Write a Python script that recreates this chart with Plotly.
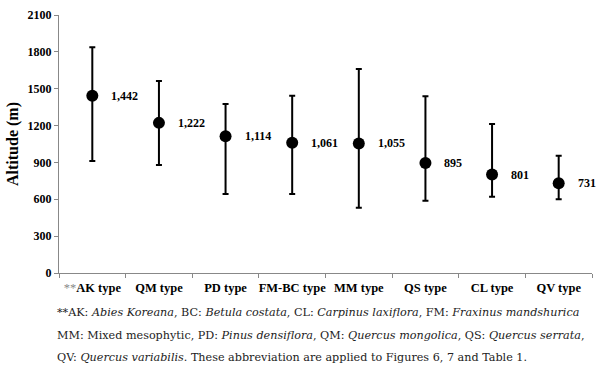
import plotly.graph_objects as go

categories = ["**AK type", "QM type", "PD type", "FM-BC type", "MM type", "QS type", "CL type", "QV type"]
tick_text = ["<span style='color:#888888;font-weight:normal'>**</span>AK type", "QM type", "PD type",
             "FM-BC type", "MM type", "QS type", "CL type", "QV type"]
means = [1442, 1222, 1114, 1061, 1055, 895, 801, 731]
upper = [1837, 1563, 1375, 1443, 1660, 1438, 1213, 955]
lower = [911, 879, 643, 643, 531, 588, 621, 600]
value_labels = ["1,442", "1,222", "1,114", "1,061", "1,055", "895", "801", "731"]
y_ticks = [0, 300, 600, 900, 1200, 1500, 1800, 2100]
caption_lines = [
    "**AK: <i>Abies Koreana</i>, BC: <i>Betula costata</i>, CL: <i>Carpinus laxiflora</i>, FM: <i>Fraxinus mandshurica</i>",
    "MM: Mixed mesophytic, PD: <i>Pinus densiflora</i>, QM: <i>Quercus mongolica</i>, QS: <i>Quercus serrata</i>,",
    "QV: <i>Quercus variabilis</i>. These abbreviation are applied to Figures 6, 7 and Table 1.",
]

err_plus = [u - m for u, m in zip(upper, means)]
err_minus = [m - l for m, l in zip(means, lower)]

SERIF = "Liberation Serif, Times New Roman, serif"
CAP = "DejaVu Serif, serif"

fig = go.Figure()
fig.add_trace(go.Scatter(
    x=categories, y=means, mode="markers",
    marker=dict(color="black", size=12),
    error_y=dict(type="data", symmetric=False, array=err_plus, arrayminus=err_minus,
                 color="black", thickness=2, width=3),
    showlegend=False, hoverinfo="skip",
))

for c, m, t in zip(categories, means, value_labels):
    fig.add_annotation(x=c, y=m, text=f"<b>{t}</b>", showarrow=False,
                       xanchor="left", yanchor="middle", xshift=17,
                       font=dict(family=SERIF, size=12, color="black"))

cap_y = [-0.155, -0.244, -0.329]
for line, yy in zip(caption_lines, cap_y):
    fig.add_annotation(xref="paper", yref="paper", x=-0.008, y=yy,
                       text=line, showarrow=False, xanchor="left", yanchor="middle",
                       font=dict(family=CAP, size=11.2, color="#222222"))

fig.update_layout(
    width=596, height=367,
    margin=dict(l=59, r=4, t=15, b=94, autoexpand=False),
    paper_bgcolor="white", plot_bgcolor="white",
    font=dict(family=SERIF, color="black"),
    xaxis=dict(
        type="category", showline=True, linecolor="#888888", linewidth=1,
        ticks="outside", tickson="boundaries", ticklen=4, tickcolor="#888888",
        tickangle=0, automargin=False, ticklabelstandoff=3,
        tickvals=categories, ticktext=tick_text,
        tickfont=dict(family=SERIF, size=12.5, color="black", weight="bold"),
        showgrid=False, zeroline=False, range=[-0.5, 7.5],
    ),
    yaxis=dict(
        range=[0, 2100], tickvals=y_ticks, showline=True, linecolor="#888888", linewidth=1,
        ticks="outside", ticklen=4, tickcolor="#888888", automargin=False,
        tickfont=dict(family=SERIF, size=12, color="black", weight="bold"),
        showgrid=False, zeroline=False,
        title=dict(text="<b>Altitude (m)</b>", font=dict(family=SERIF, size=16, color="black"), standoff=4),
    ),
)

fig.write_html("out.html", config={"displayModeBar": False},
               post_script="document.body.style.margin='0';document.body.style.padding='0';")
